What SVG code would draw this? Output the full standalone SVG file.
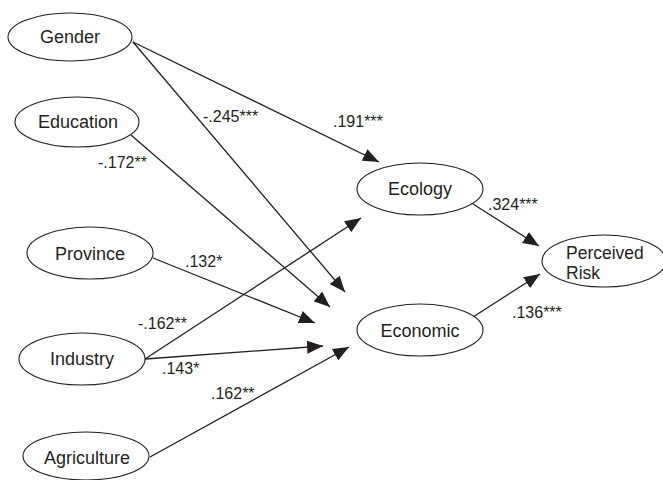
<svg xmlns="http://www.w3.org/2000/svg" width="663" height="480" viewBox="0 0 663 480">
<style>
.node{fill:#fff;stroke:#231f20;stroke-width:1.1}
.nt{font-family:"Liberation Sans",Arial,sans-serif;font-size:18px;fill:#231f20;text-anchor:middle}
.rt{font-family:"Liberation Sans",Arial,sans-serif;font-size:17.5px;fill:#231f20}
.lbl{font-family:"Liberation Sans",Arial,sans-serif;font-size:16px;fill:#231f20}
.edge{stroke:#231f20;stroke-width:1.3;fill:none;marker-end:url(#ah)}
</style>
<defs>
<marker id="ah" markerUnits="userSpaceOnUse" markerWidth="17" markerHeight="13" refX="16" refY="6.5" orient="auto">
<path d="M0,0 L16,6.5 L0,13 z" fill="#231f20"/>
</marker>
</defs>
<rect width="663" height="480" fill="#fff"/>
<g id="connectors">
<line class="edge" x1="133" y1="42" x2="379" y2="162"/>
<line class="edge" x1="133" y1="42" x2="345" y2="292"/>
<line class="edge" x1="131" y1="135" x2="330" y2="307"/>
<line class="edge" x1="153" y1="258" x2="315" y2="323"/>
<line class="edge" x1="145" y1="359" x2="361" y2="218"/>
<line class="edge" x1="145" y1="359" x2="323" y2="346"/>
<line class="edge" x1="150" y1="457" x2="349" y2="347"/>
<line class="edge" x1="473" y1="204" x2="539" y2="246"/>
<line class="edge" x1="473" y1="317" x2="540" y2="274"/>
</g>
<g id="labels">
<text class="lbl" x="203" y="122">-.245***</text>
<text class="lbl" x="333" y="127">.191***</text>
<text class="lbl" x="98" y="168">-.172**</text>
<text class="lbl" x="185" y="267">.132*</text>
<text class="lbl" x="138" y="329">-.162**</text>
<text class="lbl" x="162" y="374">.143*</text>
<text class="lbl" x="211" y="399">.162**</text>
<text class="lbl" x="488" y="210">.324***</text>
<text class="lbl" x="512" y="318">.136***</text>
</g>
<g id="gender"><ellipse class="node" cx="70" cy="37" rx="62" ry="24"/><text class="nt" x="70" y="43">Gender</text></g>
<g id="education"><ellipse class="node" cx="77" cy="122" rx="62" ry="25"/><text class="nt" x="78" y="128">Education</text></g>
<g id="province"><ellipse class="node" cx="90" cy="253" rx="63" ry="26"/><text class="nt" x="90" y="260">Province</text></g>
<g id="industry"><ellipse class="node" cx="82" cy="359" rx="63" ry="26"/><text class="nt" x="82" y="365">Industry</text></g>
<g id="agriculture"><ellipse class="node" cx="86" cy="456" rx="63" ry="24"/><text class="nt" x="87" y="464">Agriculture</text></g>
<g id="ecology"><ellipse class="node" cx="420" cy="189" rx="63" ry="26"/><text class="nt" x="420" y="195">Ecology</text></g>
<g id="economic"><ellipse class="node" cx="420" cy="330" rx="63" ry="26"/><text class="nt" x="420" y="337">Economic</text></g>
<g id="perceived-risk"><ellipse class="node" cx="604" cy="261" rx="62" ry="26"/><text class="rt" x="566" y="259">Perceived</text><text class="rt" x="566" y="279">Risk</text></g>
</svg>
